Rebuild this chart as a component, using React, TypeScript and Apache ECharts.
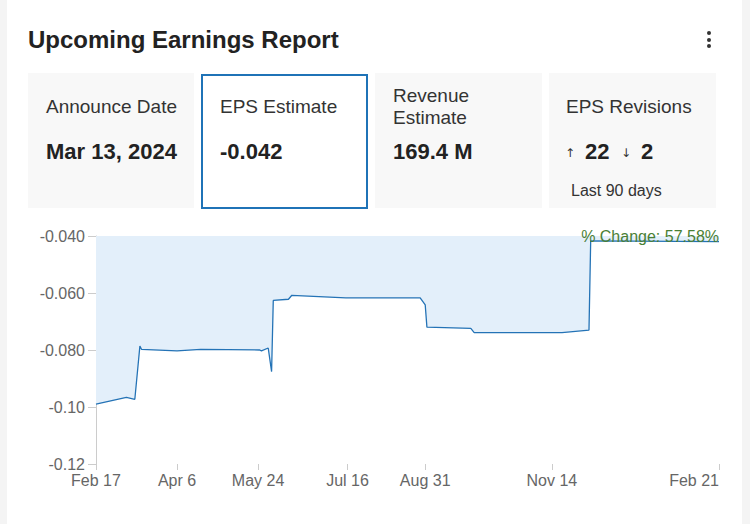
import React, { useEffect, useRef } from "react";
import * as echarts from "echarts";

const pointDates = [
  "2023-02-17", "2023-03-07", "2023-03-12", "2023-03-15", "2023-03-16",
  "2023-04-06", "2023-04-20", "2023-05-25", "2023-05-26", "2023-05-30",
  "2023-06-01", "2023-06-02", "2023-06-11", "2023-06-13", "2023-07-15",
  "2023-08-28", "2023-08-31", "2023-09-01", "2023-09-27", "2023-09-29",
  "2023-11-20", "2023-12-06", "2023-12-07", "2024-02-21",
];
const epsValues = [
  -0.099, -0.0966, -0.0973, -0.0786, -0.0798,
  -0.0803, -0.0798, -0.08, -0.0803, -0.0793,
  -0.0876, -0.0626, -0.0622, -0.0608, -0.0617,
  -0.0617, -0.0642, -0.072, -0.0724, -0.0739,
  -0.0739, -0.073, -0.0417, -0.042,
];
const xTickDates = [
  "2023-02-17", "2023-04-06", "2023-05-24", "2023-07-16",
  "2023-08-31", "2023-11-14", "2024-02-21",
];
const yMin = -0.12;
const yMax = -0.04;
const yStep = 0.02;
const changeLabel = "% Change: 57.58%";

const MONTHS = ["Jan", "Feb", "Mar", "Apr", "May", "Jun", "Jul", "Aug", "Sep", "Oct", "Nov", "Dec"];
const toTs = (s: string) => {
  const [y, m, d] = s.split("-").map(Number);
  return new Date(y, m - 1, d).getTime();
};

const chartFont = "Liberation Sans, Arial, sans-serif";

function Chart() {
  const ref = useRef<HTMLDivElement>(null);
  useEffect(() => {
    if (!ref.current) return;
    const chart = echarts.init(ref.current, undefined, { renderer: "svg" });
    const ticks = xTickDates.map(toTs);
    chart.setOption({
      animation: false,
      grid: { left: 96, right: 31, top: 16, bottom: 56 },
      xAxis: {
        type: "value",
        min: ticks[0],
        max: ticks[ticks.length - 1],
        axisLine: { show: false },
        axisTick: { show: true, length: 6, lineStyle: { color: "#cccccc" }, customValues: ticks },
        splitLine: { show: false },
        axisLabel: {
          customValues: ticks,
          color: "#666666",
          fontSize: 16,
          fontFamily: chartFont,
          margin: 8,
          hideOverlap: false,
          showMinLabel: true,
          showMaxLabel: true,
          alignMaxLabel: "right",
          formatter: (v: number) => {
            const d = new Date(v);
            return MONTHS[d.getMonth()] + " " + d.getDate();
          },
        },
      },
      yAxis: {
        type: "value",
        min: yMin,
        max: yMax,
        interval: yStep,
        axisLine: { show: true, lineStyle: { color: "#cccccc" } },
        axisTick: { show: true, length: 8, lineStyle: { color: "#cccccc" } },
        splitLine: { show: false },
        axisLabel: {
          color: "#666666",
          fontSize: 16,
          fontFamily: chartFont,
          margin: 11,
          formatter: (v: number) => v.toPrecision(2),
        },
      },
      series: [
        {
          type: "line",
          data: pointDates.map((d, i) => [toTs(d), epsValues[i]]),
          showSymbol: false,
          symbol: "none",
          lineStyle: { color: "#2473b6", width: 1.3 },
          areaStyle: { color: "#e3effa", opacity: 1, origin: "end" },
        },
      ],
      graphic: [
        {
          type: "text",
          right: 31,
          top: 8,
          z: 100,
          style: {
            text: changeLabel,
            fill: "#4a7f35",
            fontSize: 16,
            fontFamily: chartFont,
          },
        },
      ],
    });
    return () => chart.dispose();
  }, []);
  return <div ref={ref} style={{ position: "absolute", left: 0, top: 220, width: 750, height: 300 }} />;
}

const font = "'Liberation Sans', Arial, sans-serif";

function Box(props: { left: number; top: number; width: number; height: number; border?: boolean }) {
  return (
    <div
      style={{
        position: "absolute",
        left: props.left,
        top: props.top,
        width: props.width,
        height: props.height,
        boxSizing: "border-box",
        background: props.border ? "#ffffff" : "#f8f8f8",
        border: props.border ? "2px solid #1f73b7" : "none",
      }}
    />
  );
}

const T = (p: { x: number; y: number; size: number; bold?: boolean; color?: string; family?: string; children: React.ReactNode }) => (
  <div
    style={{
      position: "absolute",
      left: p.x,
      top: p.y + 1 - p.size * 0.6,
      fontSize: p.size,
      lineHeight: p.size * 1.2 + "px",
      fontWeight: p.bold ? 700 : 400,
      color: p.color || "#333333",
      whiteSpace: "nowrap",
      fontFamily: p.family || font,
    }}
  >
    {p.children}
  </div>
);

const arrowFont = "'DejaVu Sans', sans-serif";

export default function App() {
  return (
    <div style={{ position: "fixed", left: 0, top: 0, width: 750, height: 524, background: "#f4f4f4", overflow: "hidden", fontFamily: font }}>
      <div style={{ position: "absolute", left: 7, top: 0, width: 735, height: 524, background: "#ffffff" }} />
      <T x={28} y={39} size={24} bold color="#222222">Upcoming Earnings Report</T>
      {[33, 40, 46].map((y) => (
        <div key={y} style={{ position: "absolute", left: 707, top: y - 2, width: 4, height: 4, borderRadius: 2, background: "#333" }} />
      ))}
      <Box left={28} top={73} width={166} height={135} />
      <Box left={201} top={74} width={167} height={135} border />
      <Box left={375} top={73} width={167} height={135} />
      <Box left={549} top={73} width={167} height={135} />
      <T x={46} y={106} size={19}>Announce Date</T>
      <T x={46} y={151} size={22} bold color="#222222">Mar 13, 2024</T>
      <T x={220} y={106} size={19}>EPS Estimate</T>
      <T x={220} y={151} size={22} bold color="#222222">-0.042</T>
      <T x={393} y={95} size={19}>Revenue</T>
      <T x={393} y={117} size={19}>Estimate</T>
      <T x={393} y={151} size={22} bold color="#222222">169.4 M</T>
      <T x={566} y={106} size={19}>EPS Revisions</T>
      <T x={565} y={152} size={12} color="#333333" family={arrowFont}>{"\u2191"}</T>
      <T x={585} y={151} size={22} bold color="#222222">22</T>
      <T x={621} y={152} size={12} color="#333333" family={arrowFont}>{"\u2193"}</T>
      <T x={641} y={151} size={22} bold color="#222222">2</T>
      <T x={571} y={190} size={16}>Last 90 days</T>
      <Chart />
    </div>
  );
}
